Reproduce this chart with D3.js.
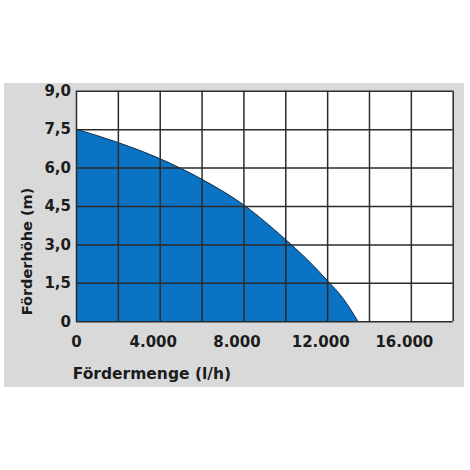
<!DOCTYPE html>
<html>
<head>
<meta charset="utf-8">
<script src="https://cdn.jsdelivr.net/npm/d3@7"></script>
<style>
	body {margin: 0; background: #ffffff;}
	text {font-family: "DejaVu Sans", sans-serif; font-weight: bold; fill: #1c1c1c;}
</style>
</head>
<body>
<div id="chart"></div>
<script>
// pump curve data (Fördermenge l/h -> Förderhöhe m)
const FLOW = [0, 2000, 4000, 6000, 8000, 10000, 11000, 12000, 12800, 13470];
const HEAD = [7.5, 6.98, 6.35, 5.55, 4.55, 3.2, 2.45, 1.6, 0.85, 0];

const X_TICKS = [0, 4000, 8000, 12000, 16000];
const X_GRID = [0, 2000, 4000, 6000, 8000, 10000, 12000, 14000, 16000, 18000];
const Y_TICKS = [0, 1.5, 3, 4.5, 6, 7.5, 9];

const X_TITLE = "Fördermenge (l/h)";
const Y_TITLE = "Förderhöhe (m)";

// frame
const FRAME_HEIGHT = 470;
const FRAME_WIDTH = 470;
const MARGINS = {left: 76, right: 17.3, top: 90.7, bottom: 148.7};

const VIS_HEIGHT = FRAME_HEIGHT - MARGINS.top - MARGINS.bottom;
const VIS_WIDTH = FRAME_WIDTH - MARGINS.left - MARGINS.right;

// german number format
const DE = d3.formatLocale({decimal: ",", thousands: ".", grouping: [3], currency: ["", " €"]});

const FRAME = d3.select("#chart")
				.append("svg")
					.attr("height", FRAME_HEIGHT)
					.attr("width", FRAME_WIDTH);

// gray panel
FRAME.append("rect")
		.attr("x", 4)
		.attr("y", 83)
		.attr("width", 460)
		.attr("height", 304)
		.attr("fill", "#d9d9d9");

const X_SCALE = d3.scaleLinear()
					.domain([0, 18000])
					.range([0, VIS_WIDTH]);

const Y_SCALE = d3.scaleLinear()
					.domain([0, 9])
					.range([VIS_HEIGHT, 0]);

const G = FRAME.append("g")
				.attr("transform", "translate(" + MARGINS.left + "," + MARGINS.top + ")");

// white plot background
G.append("rect")
	.attr("width", VIS_WIDTH)
	.attr("height", VIS_HEIGHT)
	.attr("fill", "#ffffff");

// blue area under the curve
const DATA = FLOW.map((f, i) => {return {flow: f, head: HEAD[i]};});

const AREA = d3.area()
				.x((d) => {return X_SCALE(d.flow);})
				.y0(Y_SCALE(0))
				.y1((d) => {return Y_SCALE(d.head);})
				.curve(d3.curveMonotoneX);

G.append("path")
	.datum(DATA)
	.attr("d", AREA)
	.attr("fill", "#0a73c4");

const LINE = d3.line()
				.x((d) => {return X_SCALE(d.flow);})
				.y((d) => {return Y_SCALE(d.head);})
				.curve(d3.curveMonotoneX);

G.append("path")
	.datum(DATA)
	.attr("d", LINE)
	.attr("fill", "none")
	.attr("stroke", "#0b2a4a")
	.attr("stroke-width", 1);

// grid lines
G.append("g")
	.attr("transform", "translate(0," + VIS_HEIGHT + ")")
	.call(d3.axisBottom(X_SCALE).tickValues(X_GRID).tickSize(VIS_HEIGHT).tickFormat(""))
	.call((g) => {
		g.select(".domain").remove();
		g.selectAll("line")
			.attr("transform", "translate(0," + (-VIS_HEIGHT) + ")")
			.attr("stroke", "#2b2b2b")
			.attr("stroke-width", 1.5);
	});

G.append("g")
	.call(d3.axisLeft(Y_SCALE).tickValues(Y_TICKS).tickSize(-VIS_WIDTH).tickFormat(""))
	.call((g) => {
		g.select(".domain").remove();
		g.selectAll("line")
			.attr("stroke", "#2b2b2b")
			.attr("stroke-width", 1.5);
	});

// x tick labels
G.append("g")
	.attr("transform", "translate(0," + VIS_HEIGHT + ")")
	.call(d3.axisBottom(X_SCALE).tickValues(X_TICKS).tickSize(0).tickPadding(15).tickFormat(DE.format(",d")))
	.call((g) => {
		g.select(".domain").remove();
		g.selectAll("text")
			.attr("font-size", "15px")
			.attr("dx", (d) => {return d === 0 ? 0 : -7;});
	});

// y tick labels
G.append("g")
	.call(d3.axisLeft(Y_SCALE).tickValues(Y_TICKS).tickSize(0).tickPadding(5)
			.tickFormat((d) => {return d === 0 ? "0" : DE.format(",.1f")(d);}))
	.call((g) => {
		g.select(".domain").remove();
		g.selectAll("text").attr("font-size", "15px");
	});

// axis titles
FRAME.append("text")
		.attr("x", 72.7)
		.attr("y", 379)
		.attr("font-size", "15.5px")
		.text(X_TITLE);

FRAME.append("text")
		.attr("transform", "translate(32,251.5) rotate(-90)")
		.attr("text-anchor", "middle")
		.attr("font-size", "14.5px")
		.text(Y_TITLE);
</script>
</body>
</html>
